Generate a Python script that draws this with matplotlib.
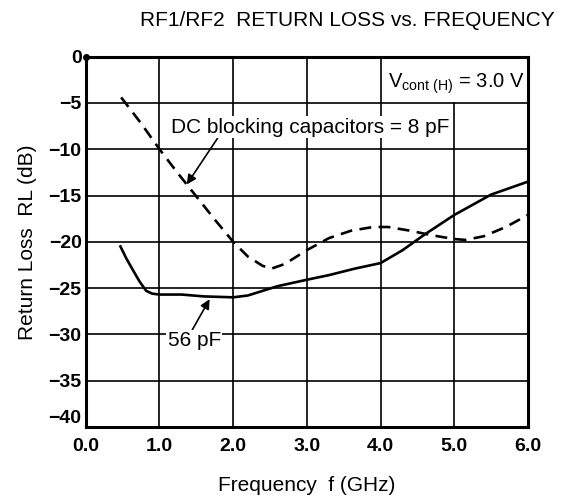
import numpy as np
import matplotlib
matplotlib.use('Agg')
import matplotlib.pyplot as plt
from matplotlib.patches import Rectangle

plt.rcParams['font.family'] = ['Liberation Sans', 'DejaVu Sans']

# 8 pF DC blocking capacitors (dashed)
freq_8pf = [0.48, 0.75, 1.0, 1.25, 1.5, 1.75, 2.0, 2.2, 2.4, 2.52, 2.7, 3.0, 3.3, 3.6, 3.9, 4.1,
            4.4, 4.7, 5.0, 5.15, 5.4, 5.7, 6.0]
rl_8pf = [-4.4, -7.2, -10.0, -12.6, -15.1, -17.6, -20.0, -21.6, -22.6, -22.9, -22.4, -20.9,
          -19.6, -18.8, -18.4, -18.4, -18.8, -19.3, -19.7, -19.8, -19.4, -18.4, -17.1]

# 56 pF (solid)
freq_56pf = [0.47, 0.55, 0.65, 0.73, 0.82, 0.9, 1.0, 1.3, 1.6, 2.0, 2.2, 2.4, 2.6, 3.0, 3.3,
             3.65, 4.0, 4.3, 4.6, 5.0, 5.5, 6.0]
rl_56pf = [-20.5, -21.8, -23.2, -24.3, -25.3, -25.6, -25.7, -25.7, -25.9, -26.0, -25.8, -25.3,
           -24.8, -24.1, -23.6, -22.9, -22.3, -20.9, -19.2, -17.1, -14.9, -13.5]

xticks = [0.0, 1.0, 2.0, 3.0, 4.0, 5.0, 6.0]
yticks = [0, -5, -10, -15, -20, -25, -30, -35, -40]

fig = plt.figure(figsize=(5.72, 5.04), dpi=100)
ax = fig.add_axes([0.150, 0.153, 0.773, 0.7345])

ax.plot(freq_8pf, rl_8pf, color='black', lw=1.9, ls=(0, (4.5, 2.8)), zorder=4)
ax.plot(freq_56pf, rl_56pf, color='black', lw=1.9, zorder=4)
ax.plot([0], [0], 'o', color='black', ms=4, clip_on=False, zorder=6)

ax.set_xlim(0, 6)
ax.set_ylim(-40, 0)
ax.set_xticks(xticks)
ax.set_xticklabels([f'{v:.1f}' for v in xticks], fontweight='bold')
ax.set_yticks(yticks)
ax.set_yticklabels([str(v).replace('-', '\u2212') for v in yticks], fontweight='bold')
ax.tick_params(length=0, labelsize=14)
ax.tick_params(axis='x', pad=8)
ax.tick_params(axis='y', pad=3)
ax.get_yticklabels()[-1].set_va('bottom')
ax.grid(True, color='black', lw=1.2, zorder=1)
ax.set_axisbelow(True)
for sp in ax.spines.values():
    sp.set_linewidth(2.2)

# condition label box
ax.add_patch(Rectangle((4.03, -4.85), 1.93, 4.8, facecolor='white', edgecolor='none', zorder=2))
ax.text(5.95, -2.9, r'V$_{\mathregular{cont\ (H)}}$ = 3.0 V', ha='right', va='center',
        fontsize=14.5, zorder=5)

ax.annotate('DC blocking capacitors = 8 pF', xy=(1.37, -13.8), xytext=(3.05, -7.6),
            ha='center', va='center', fontsize=15, zorder=5,
            bbox=dict(facecolor='white', edgecolor='none', pad=1),
            arrowprops=dict(arrowstyle='-|>', color='black', lw=1.2, shrinkA=0, shrinkB=0,
                            relpos=(0.17, 0.0), mutation_scale=14))
ax.annotate('56 pF', xy=(1.68, -26.2), xytext=(1.47, -30.7),
            ha='center', va='center', fontsize=15, zorder=5,
            bbox=dict(facecolor='white', edgecolor='none', pad=1),
            arrowprops=dict(arrowstyle='-|>', color='black', lw=1.2, shrinkA=0, shrinkB=0,
                            relpos=(0.45, 1.0), mutation_scale=14))

ax.set_xlabel('Frequency  f (GHz)', fontsize=15, labelpad=15)
ax.set_ylabel('Return Loss  RL (dB)', fontsize=15, labelpad=8)
fig.text(0.607, 0.96, 'RF1/RF2  RETURN LOSS vs. FREQUENCY', ha='center', va='center',
         fontsize=15)

fig.savefig('out.png', dpi=100)
